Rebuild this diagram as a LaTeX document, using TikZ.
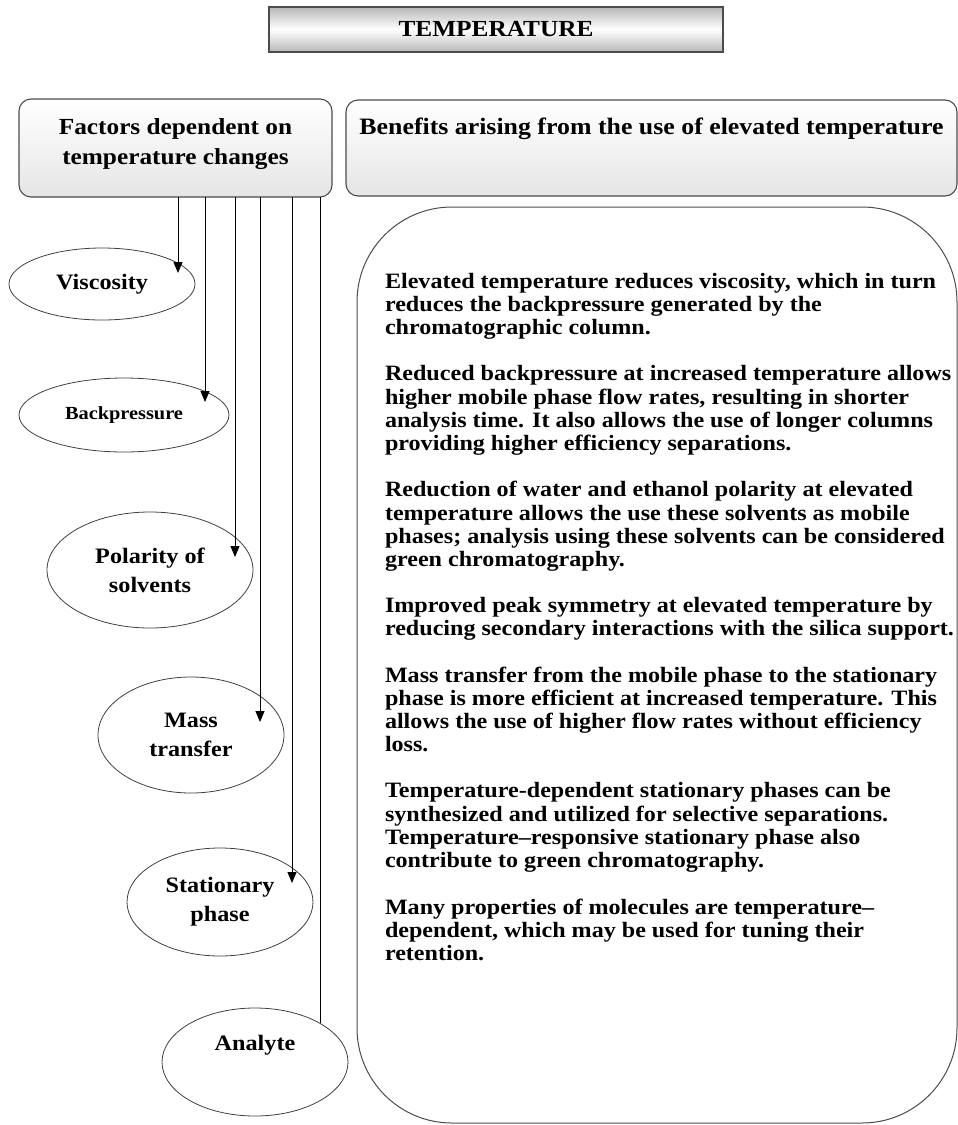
\documentclass[tikz,border=0pt]{standalone}
\usepackage{fontspec}
\setmainfont{Liberation Serif}[FakeStretch=1.1]
\usetikzlibrary{shapes.geometric,arrows.meta}
\begin{document}
\begin{tikzpicture}[x=1pt,y=-1pt,
  every node/.style={inner sep=0pt, outer sep=0pt},
  frame/.style={draw=black!70, line width=1.1pt},
  hdrbox/.style={frame, rounded corners=12pt, top color=white, bottom color=black!10},
  titlebox/.style={frame, top color=black!28, bottom color=black!28, middle color=white},
  bigbox/.style={draw=black!70, line width=1pt, rounded corners=95pt, fill=white},
  oval/.style={ellipse, draw=black!75, line width=0.8pt, align=center},
  link/.style={line width=1pt},
  arr/.style={link, -{Triangle[length=11pt,width=9pt]}},
  hfont/.style={font=\fontsize{23}{30}\selectfont\bfseries, align=center},
  efont/.style={font=\fontsize{22}{29}\selectfont\bfseries, align=center},
  bfont/.style={font=\fontsize{21.9}{23.17}\selectfont\bfseries, align=left, anchor=north west},
]
\useasboundingbox (0,0) rectangle (958,1125);

% title
\node[titlebox, minimum width=454pt, minimum height=45pt, hfont] (title) at (496,29.5) {TEMPERATURE};

% header boxes
\node[hdrbox, minimum width=313pt, minimum height=98pt, anchor=north west,
  label={[hfont, anchor=north, yshift=-20pt]north:Factors dependent on\\temperature changes}] (fac) at (19,99) {};
\node[hdrbox, minimum width=611pt, minimum height=96pt, anchor=north west,
  label={[hfont, font=\fontsize{23.5}{30}\selectfont\bfseries, anchor=north, yshift=-18pt]north:Benefits arising from the use of elevated temperature}] (benh) at (346,100) {};

% large box
\node[bigbox, minimum width=600pt, minimum height=916pt, anchor=north west] (ben) at (357,207) {};

% ellipses
\node[oval, efont, minimum width=186pt, minimum height=72pt] (visc) at (102,284) {Viscosity};
\node[oval, font=\fontsize{18.5}{22}\selectfont\bfseries, minimum width=210pt, minimum height=74pt] (back) at (124,415) {Backpressure};
\node[oval, efont, minimum width=206pt, minimum height=116pt] (pol) at (150,570) {Polarity of\\solvents};
\node[oval, efont, minimum width=186pt, minimum height=116pt] (mass) at (191,735) {Mass\\transfer};
\node[oval, efont, minimum width=186pt, minimum height=108pt] (stat) at (220,902) {Stationary\\phase};
\node[oval, minimum width=186pt, minimum height=108pt,
  label={[efont, yshift=17pt]center:Analyte}] (anal) at (255,1062) {};

% connector ends
\coordinate (t1) at (178,273);
\coordinate (t2) at (205,402);
\coordinate (t3) at (235,557);
\coordinate (t4) at (260,722);
\coordinate (t5) at (292,883);
\coordinate (t6) at (320,1023);

\draw[arr] (fac.south -| t1) -- (t1);
\draw[arr] (fac.south -| t2) -- (t2);
\draw[arr] (fac.south -| t3) -- (t3);
\draw[arr] (fac.south -| t4) -- (t4);
\draw[arr] (fac.south -| t5) -- (t5);
\draw[link] (fac.south -| t6) -- (t6);

% benefit paragraphs
\node[bfont] (p1) at (385,273) {Elevated temperature reduces viscosity, which in turn\\reduces the backpressure generated by the\\chromatographic column.};
\node[bfont] (p2) at (385,365.7) {Reduced backpressure at increased temperature allows\\higher mobile phase flow rates, resulting in shorter\\analysis time. It also allows the use of longer columns\\providing higher efficiency separations.};
\node[bfont] (p3) at (385,481.5) {Reduction of water and ethanol polarity at elevated\\temperature allows the use these solvents as mobile\\phases; analysis using these solvents can be considered\\green chromatography.};
\node[bfont] (p4) at (385,597.4) {Improved peak symmetry at elevated temperature by\\reducing secondary interactions with the silica support.};
\node[bfont] (p5) at (385,666.9) {Mass transfer from the mobile phase to the stationary\\phase is more efficient at increased temperature. This\\allows the use of higher flow rates without efficiency\\loss.};
\node[bfont] (p6) at (385,782.7) {Temperature-dependent stationary phases can be\\synthesized and utilized for selective separations.\\Temperature–responsive stationary phase also\\contribute to green chromatography.};
\node[bfont] (p7) at (385,898.6) {Many properties of molecules are temperature–\\dependent, which may be used for tuning their\\retention.};
\end{tikzpicture}
\end{document}
